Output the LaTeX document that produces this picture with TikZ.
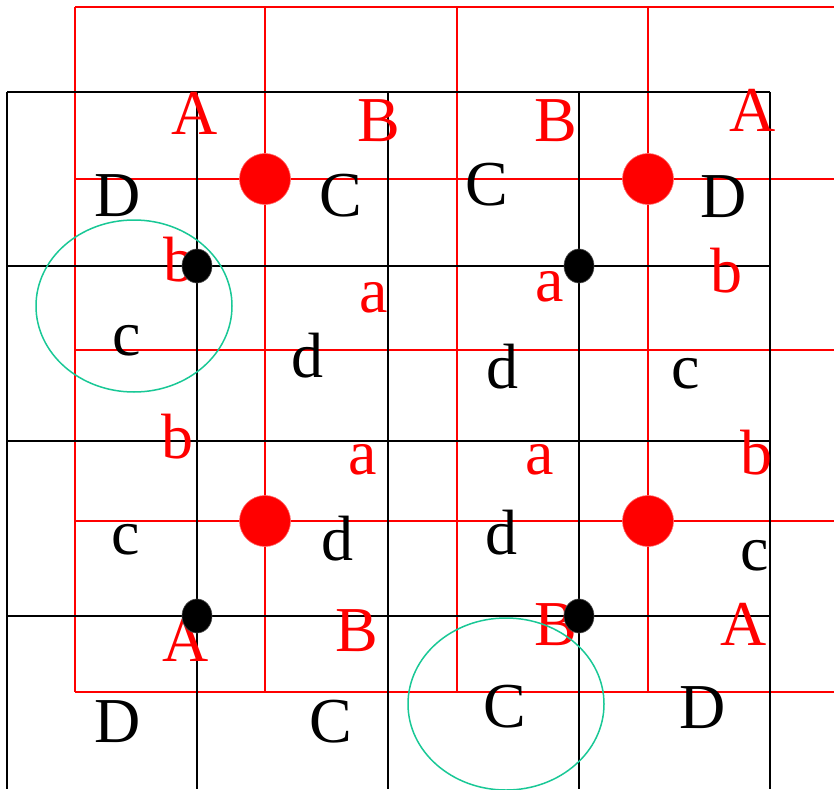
\documentclass[tikz,border=0pt]{standalone}
\usepackage{fontspec}
\setmainfont{Liberation Serif}
\usetikzlibrary{shapes.geometric}
\definecolor{ellgreen}{RGB}{25,200,150}
\begin{document}
\begin{tikzpicture}[x=1pt,y=-1pt,
  redline/.style={draw=red,line width=1.6pt},
  blackline/.style={draw=black,line width=2.3pt},
  lbl/.style={inner sep=0pt,font=\fontsize{64}{64}\selectfont},
  rlbl/.style={lbl,text=red},
  blbl/.style={lbl,text=black},
  reddot/.style={circle,fill=red,draw=red!60,line width=0.6pt,minimum size=51pt,inner sep=0pt},
  blackdot/.style={ellipse,fill=black,draw=black!70,line width=0.6pt,minimum width=30pt,minimum height=34pt,inner sep=0pt},
  ring/.style={draw=ellgreen,line width=1.5pt}
]
\useasboundingbox (0,0) rectangle (834,789);
\fill[white] (0,0) rectangle (834,789);
% red grid
\foreach \x in {75,265,457,648} \draw[redline] (\x,7) -- (\x,692);
\foreach \y in {7,179,350,521,692} \draw[redline] (75,\y) -- (834,\y);
% black grid
\foreach \x in {7,197,388,579,770} \draw[blackline] (\x,92) -- (\x,789);
\foreach \y in {92,266,441,616} \draw[blackline] (7,\y) -- (770,\y);
% labels
\node[rlbl] (A1) at (195,113) {A};
\node[rlbl] (B1) at (379,121) {B};
\node[rlbl] (B2) at (556,121) {B};
\node[rlbl] (A2) at (753,110) {A};
\node[blbl] (D1) at (118,196) {D};
\node[blbl] (C1) at (341,196) {C};
\node[blbl] (C2) at (487,185) {C};
\node[blbl] (D2) at (724,197) {D};
\node[rlbl] (b1) at (179,260) {b};
\node[rlbl] (a1) at (374,298) {a};
\node[rlbl] (a2) at (550,287) {a};
\node[rlbl] (b2) at (726,271) {b};
\node[blbl] (c1) at (127,341) {c};
\node[blbl] (d1) at (307,356) {d};
\node[blbl] (d2) at (502,367) {d};
\node[blbl] (c2) at (686,374) {c};
\node[rlbl] (b3) at (177,437) {b};
\node[rlbl] (a3) at (363,460) {a};
\node[rlbl] (a4) at (540,460) {a};
\node[rlbl] (b4) at (756,453) {b};
\node[blbl] (c3) at (126,540) {c};
\node[blbl] (d3) at (337,539) {d};
\node[blbl] (d4) at (501,533) {d};
\node[blbl] (c4) at (755,556) {c};
\node[rlbl] (A3) at (186,640) {A};
\node[rlbl] (B3) at (357,631) {B};
\node[rlbl] (B4) at (556,625) {B};
\node[rlbl] (A4) at (744,624) {A};
\node[blbl] (D3) at (118,722) {D};
\node[blbl] (C3) at (331,722) {C};
\node[blbl] (C4) at (505,707) {C};
\node[blbl] (D4) at (703,708) {D};
% dots
\node[reddot] (r1) at (265,179) {};
\node[reddot] (r2) at (648,179) {};
\node[reddot] (r3) at (265,521) {};
\node[reddot] (r4) at (648,521) {};
\node[blackdot] (k1) at (197,266) {};
\node[blackdot] (k2) at (579,266) {};
\node[blackdot] (k3) at (197,616) {};
\node[blackdot] (k4) at (579,616) {};
% green ellipses
\draw[ring] (134,306) ellipse [x radius=98, y radius=86];
\draw[ring] (506,704) ellipse [x radius=98, y radius=86];
\end{tikzpicture}
\end{document}
